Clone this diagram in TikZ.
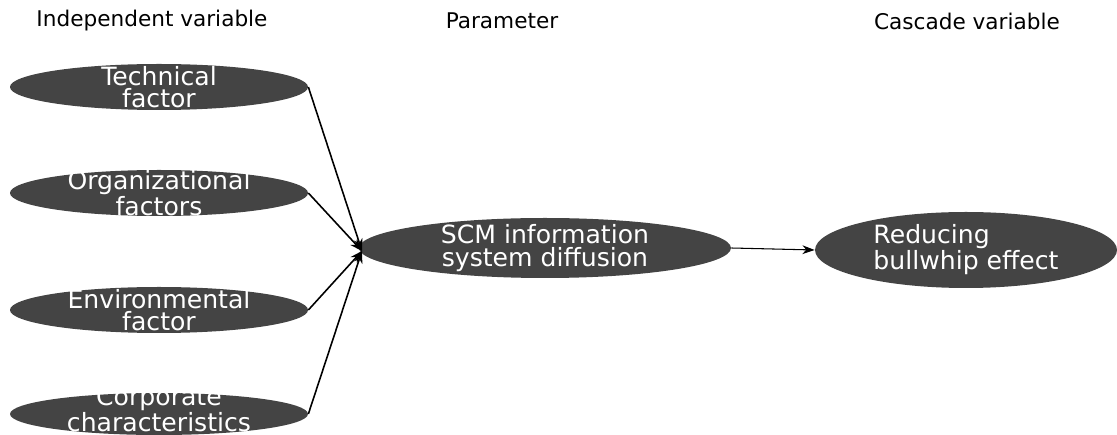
\documentclass[tikz,border=0pt]{standalone}
\usepackage{fontspec}
\setmainfont{DejaVu Sans}
\usetikzlibrary{shapes.geometric,arrows.meta}
\definecolor{ellfill}{HTML}{444444}
\tikzset{
  oval/.style={ellipse, fill=ellfill, text=white, inner xsep=0pt, inner ysep=-12pt, align=center, font=\fontsize{14.3}{12.8}\selectfont},
  ovaltext/.style={text=white, inner sep=0pt, align=center, font=\fontsize{14.3}{12.8}\selectfont},
  hdr/.style={font=\fontsize{12.3}{14}\selectfont, anchor=center},
  conn/.style={-{Stealth[length=7pt,width=5pt]}, line width=0.9pt, black}
}
\begin{document}
\begin{tikzpicture}[x=0.02cm,y=-0.02cm]
\useasboundingbox (0,0) rectangle (1117,435);
\node[hdr] (h1) at (152,21) {Independent variable};
\node[hdr] (h2) at (502,21) {Parameter};
\node[hdr] (h3) at (967,21) {Cascade variable};

\node[oval, minimum width=298*0.02cm, minimum height=46*0.02cm] (tech) at (159,87) {Technical\\factor};
\node[oval, minimum width=298*0.02cm, minimum height=46*0.02cm] (org) at (159,193) {Organizational\\factors};
\node[oval, minimum width=298*0.02cm, minimum height=46*0.02cm] (env) at (159,310) {Environmental\\factor};
\node[oval, minimum width=298*0.02cm, minimum height=42*0.02cm] (corp) at (159,414) {};
\node[ovaltext] (corptext) at (159,409) {Corporate\\characteristics};

\node[oval, minimum width=372*0.02cm, minimum height=60*0.02cm] (scm) at (545,248) {SCM information\\system diffusion};
\node[oval, align=left, minimum width=302*0.02cm, minimum height=76*0.02cm] (red) at (966,250) {Reducing\\bullwhip effect};

\coordinate (in) at (362,251);
\draw[conn] (tech.east) -- (in);
\draw[conn] (org.east) -- (in);
\draw[conn] (env.east) -- (in);
\draw[conn] (corp.east) -- (in);
\draw[conn, line width=0.6pt] (scm.east) -- (red.west);
\end{tikzpicture}
\end{document}
